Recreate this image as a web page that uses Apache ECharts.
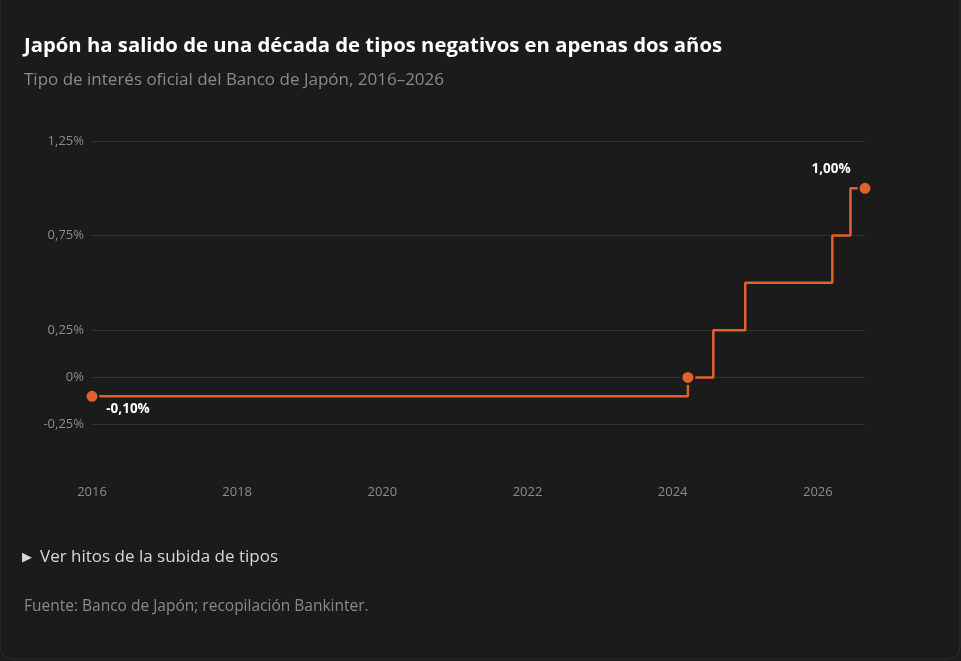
<!DOCTYPE html>
<html><head><meta charset="utf-8">
<script src="https://cdn.jsdelivr.net/npm/echarts@6/dist/echarts.min.js"></script>
<style>html,body{margin:0;padding:0;background:#1b1b1b;}#c{width:961px;height:661px;}</style>
</head><body><div id="c"></div><script>
const titleText = 'Japón ha salido de una década de tipos negativos en apenas dos años';
const subtitleText = 'Tipo de interés oficial del Banco de Japón, 2016–2026';
const toggleText = 'Ver hitos de la subida de tipos';
const sourceText = 'Fuente: Banco de Japón; recopilación Bankinter.';

const dates = [2016.0, 2024.21, 2024.56, 2025.0, 2026.2, 2026.45, 2026.65];
const rates = [-0.10, 0, 0.25, 0.5, 0.75, 1.0, 1.0];
const markedPoints = [0, 1, 6];
const pointLabels = {0: '-0,10%', 6: '1,00%'};
const labelOffsets = {0: [36, 13], 6: [-34, -19]};
const yTicks = [-0.25, 0, 0.25, 0.75, 1.25];
const xTicks = [2016, 2018, 2020, 2022, 2024, 2026];

const FONT = '"Open Sans", "Noto Sans", sans-serif';
const ORANGE = '#e0612b';
const BG = '#1b1b1b';

function fmtPct(v) {
  if (v === 0) return '0%';
  return v.toFixed(2).replace('.', ',') + '%';
}

const lineData = dates.map((d, i) => {
  const marked = markedPoints.includes(i);
  const item = {value: [d, rates[i]], symbol: marked ? 'circle' : 'none', symbolSize: marked ? 13 : 0};
  if (pointLabels[i]) {
    item.label = {show: true, formatter: pointLabels[i], position: 'inside', offset: labelOffsets[i],
      color: '#ffffff', fontWeight: 'bold', fontSize: 13.5, fontFamily: FONT};
  }
  return item;
});

const chart = echarts.init(document.getElementById('c'));
chart.setOption({
  backgroundColor: BG,
  animation: false,
  grid: {left: 92, right: 96, top: 141, bottom: 189},
  xAxis: {
    type: 'value', min: 2016, max: dates[dates.length - 1], interval: 2,
    axisLine: {show: false}, axisTick: {show: false}, splitLine: {show: false},
    axisLabel: {color: '#8c8c8c', fontSize: 13, fontFamily: FONT, margin: 14,
      showMaxLabel: false,
      formatter: v => xTicks.includes(Math.round(v)) && Math.abs(v - Math.round(v)) < 1e-6 ? String(Math.round(v)) : ''}
  },
  yAxis: {
    type: 'value', min: -0.5, max: 1.25, interval: 0.25,
    axisLine: {show: false}, axisTick: {show: false}, splitLine: {show: false},
    axisLabel: {color: '#8c8c8c', fontSize: 13, fontFamily: FONT, margin: 8,
      formatter: v => yTicks.some(t => Math.abs(t - v) < 1e-6) ? fmtPct(v) : ''}
  },
  series: [{
    type: 'line', step: 'end', data: lineData,
    lineStyle: {color: ORANGE, width: 2.5},
    itemStyle: {color: ORANGE, borderColor: BG, borderWidth: 2},
    z: 3,
    markLine: {
      silent: true, symbol: 'none', label: {show: false},
      lineStyle: {color: '#333333', width: 1, type: 'solid'},
      data: yTicks.map(t => ({yAxis: t})),
      z: 1
    }
  }],
  graphic: [
    {type: 'text', x: 24, y: 46, style: {text: titleText, fill: '#ffffff', font: 'bold 20.3px ' + FONT, verticalAlign: 'middle'}},
    {type: 'text', x: 24, y: 80, style: {text: subtitleText, fill: '#8a8a8a', font: '17px ' + FONT, verticalAlign: 'middle'}},
    {type: 'text', x: 22, y: 557, style: {text: '▶', fill: '#d8d8d8', font: '13px ' + FONT, verticalAlign: 'middle'}},
    {type: 'text', x: 40, y: 557, style: {text: toggleText, fill: '#d8d8d8', font: '17px ' + FONT, verticalAlign: 'middle'}},
    {type: 'text', x: 24, y: 607, style: {text: sourceText, fill: '#8a8a8a', font: '15.5px ' + FONT, verticalAlign: 'middle'}},
    {type: 'rect', x: 0, y: -20, shape: {width: 960, height: 679, r: 12}, silent: true,
      style: {fill: 'none', stroke: '#2f2f2f', lineWidth: 1}}
  ]
});
</script></body></html>
